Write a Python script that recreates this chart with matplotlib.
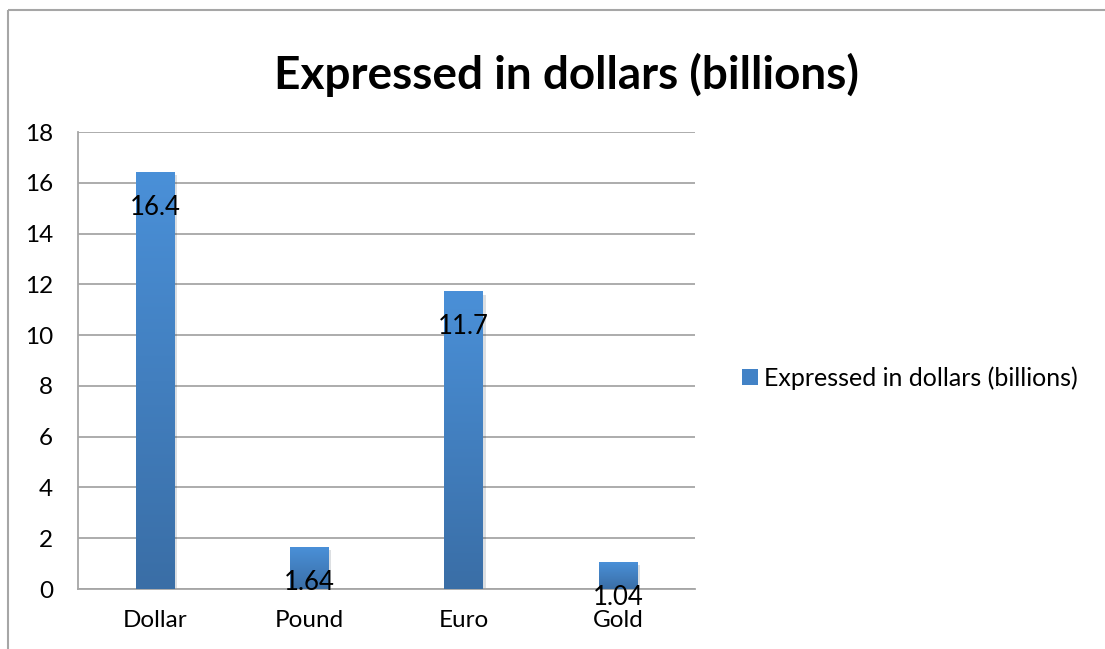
import matplotlib.pyplot as plt
import numpy as np
from matplotlib.lines import Line2D
from matplotlib.patches import Patch
from matplotlib.colors import LinearSegmentedColormap
import matplotlib.patheffects as pe

plt.rcParams['font.family'] = ['Lato', 'DejaVu Sans']

# datos
categorias = ['Dollar', 'Pound', 'Euro', 'Gold']
valores = [16.4, 1.64, 11.7, 1.04]
etiquetas = ['16.4', '1.64', '11.7', '1.04']
serie = 'Expressed in dollars (billions)'
y_ticks = [0, 2, 4, 6, 8, 10, 12, 14, 16, 18]

W, H = 1105, 649
fig = plt.figure(figsize=(W / 100, H / 100), dpi=100)
fig.patch.set_edgecolor('none')
fig.patch.set_linewidth(0)

# marco del gráfico (solo borde izquierdo y superior dentro de la imagen)
borde = dict(transform=fig.transFigure, color='#a6a6a6', linewidth=1.5,
             solid_capstyle='butt')
fig.lines.append(Line2D([8 / W, 8 / W], [0, 1 - 10 / H], **borde))
fig.lines.append(Line2D([8 / W, 1.0], [1 - 10 / H, 1 - 10 / H], **borde))

ax = fig.add_axes([78 / W, 1 - 589 / H, (695 - 78) / W, (589 - 132) / H])

x = np.arange(len(categorias))
barras = ax.bar(x, valores, width=0.25, color='#4a8bd0', zorder=2,
                path_effects=[pe.SimplePatchShadow(offset=(2, -2), alpha=0.15),
                              pe.Normal()])

# degradado vertical de las barras
cmap = LinearSegmentedColormap.from_list('azul', ['#3a6ea6', '#4a90d8'])
grad = np.linspace(0, 1, 256).reshape(-1, 1)
for b in barras:
    x0, w, h = b.get_x(), b.get_width(), b.get_height()
    ax.imshow(grad, cmap=cmap, origin='lower', aspect='auto',
              extent=(x0, x0 + w, 0, h), zorder=3)

# etiquetas de datos
for xi, v, t in zip(x, valores, etiquetas):
    ax.annotate(t, (xi, v), xytext=(0, -25), textcoords='offset points',
                ha='center', va='center', fontsize=18.5, color='black', zorder=5)

ax.set_xlim(-0.5, len(categorias) - 0.5)
ax.set_ylim(0, 18)
ax.set_yticks(y_ticks)
ax.set_xticks(x)
ax.set_xticklabels(categorias)
ax.tick_params(axis='both', length=0, labelsize=17.5)
ax.tick_params(axis='y', pad=18)
ax.tick_params(axis='x', pad=15)

ax.yaxis.grid(True, color='#a6a6a6', linewidth=1.3, zorder=0)
ax.set_axisbelow(True)
for s in ['top', 'right']:
    ax.spines[s].set_visible(False)
for s in ['left', 'bottom']:
    ax.spines[s].set_color('#a6a6a6')
    ax.spines[s].set_linewidth(1.3)

fig.text(567 / W, 1 - 89 / H, serie, ha='center', va='baseline',
         fontsize=33, fontweight='bold')

fig.legend(handles=[Patch(facecolor='#4282c6', edgecolor='none', label=serie)],
           loc='center left', bbox_to_anchor=(742 / W, 1 - 378 / H),
           frameon=False, fontsize=18, handlelength=0.65, handleheight=0.65,
           handletextpad=0.25, borderpad=0, borderaxespad=0)

fig.savefig('out.png', dpi=100)
